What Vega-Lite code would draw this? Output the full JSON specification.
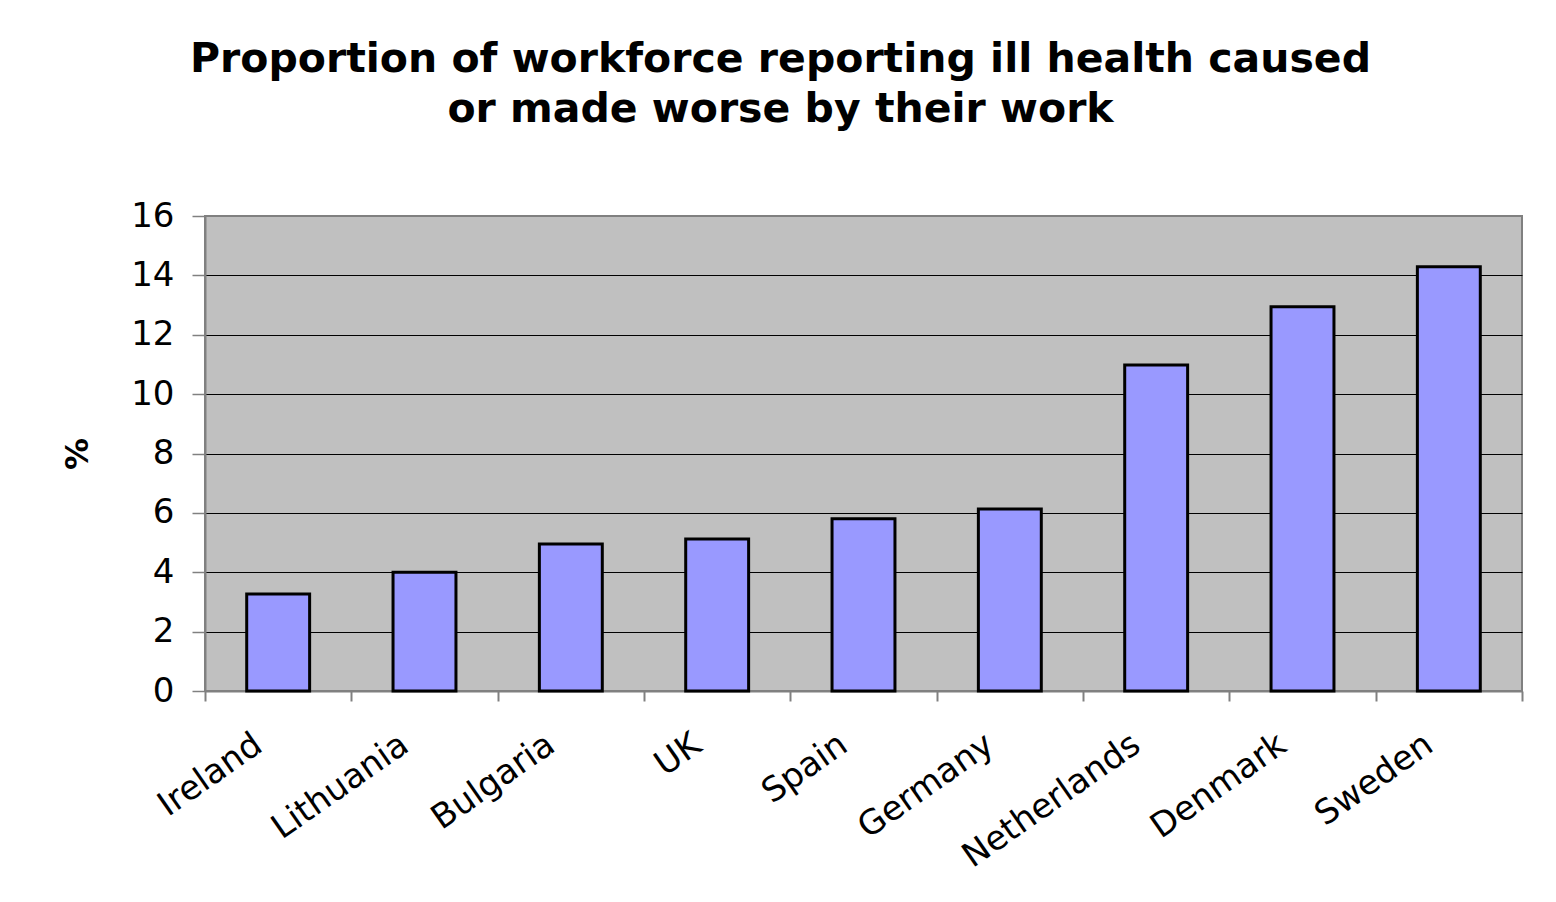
{
  "$schema": "https://vega.github.io/schema/vega-lite/v6.json",
  "autosize": "none",
  "padding": {"left": 205, "top": 216, "right": 34, "bottom": 211},
  "width": 1317,
  "height": 475,
  "background": "white",
  "title": {
    "text": ["Proportion of workforce reporting ill health caused", "or made worse by their work"],
    "font": "DejaVu Sans",
    "fontSize": 41,
    "fontWeight": "bold",
    "color": "black",
    "lineHeight": 50,
    "anchor": "middle",
    "frame": "group",
    "dx": -83,
    "offset": 68
  },
  "data": {
    "values": [
      {"country": "Ireland", "pct": 3.27},
      {"country": "Lithuania", "pct": 4.0},
      {"country": "Bulgaria", "pct": 4.95},
      {"country": "UK", "pct": 5.12},
      {"country": "Spain", "pct": 5.8},
      {"country": "Germany", "pct": 6.13},
      {"country": "Netherlands", "pct": 10.98},
      {"country": "Denmark", "pct": 12.94},
      {"country": "Sweden", "pct": 14.29}
    ]
  },
  "mark": {"type": "bar", "fill": "#9999FF", "stroke": "black", "strokeWidth": 3, "width": {"band": 0.43}},
  "encoding": {
    "x": {
      "field": "country",
      "type": "nominal",
      "sort": null,
      "scale": {"paddingInner": 0, "paddingOuter": 0},
      "axis": {
        "title": null,
        "labelAngle": -35,
        "labelAlign": "right",
        "labelBaseline": "middle",
        "labelFont": "DejaVu Sans",
        "labelFontSize": 34,
        "labelColor": "black",
        "labelLimit": 0,
        "labelPadding": 40,
        "labelOffset": -20,
        "tickBand": "extent",
        "tickSize": 10,
        "tickColor": "#808080",
        "tickWidth": 2,
        "domainColor": "#808080",
        "domainWidth": 2,
        "grid": false
      }
    },
    "y": {
      "field": "pct",
      "type": "quantitative",
      "scale": {"domain": [0, 16]},
      "axis": {
        "title": "%",
        "titleFont": "DejaVu Sans",
        "titleFontSize": 32,
        "titleFontWeight": "bold",
        "titleColor": "black",
        "titlePadding": 36,
        "values": [0, 2, 4, 6, 8, 10, 12, 14, 16],
        "labelFont": "DejaVu Sans",
        "labelFontSize": 34,
        "labelColor": "black",
        "labelPadding": 18,
        "tickSize": 13,
        "tickColor": "#808080",
        "tickWidth": 1.5,
        "domainColor": "#808080",
        "domainWidth": 2,
        "gridColor": {"condition": {"test": "datum.value === 16 || datum.value === 0", "value": "#808080"}, "value": "black"},
        "gridWidth": 1.2,
        "gridOpacity": 1
      }
    }
  },
  "config": {
    "view": {"fill": "#C0C0C0", "stroke": "#808080", "strokeWidth": 2}
  }
}
